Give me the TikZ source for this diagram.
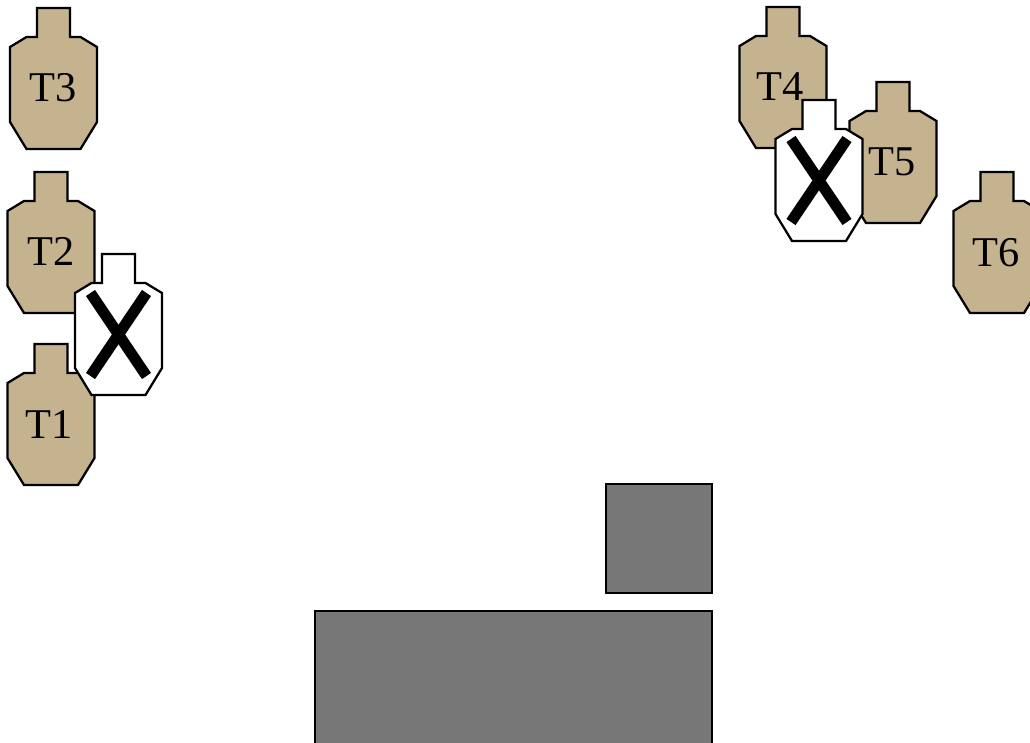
\documentclass[tikz,border=0pt]{standalone}
\usepackage{fontspec}
\setmainfont{Liberation Serif}
\definecolor{targettan}{HTML}{C5B28E}
\definecolor{coverdark}{HTML}{777777}
\tikzset{
  outline/.style={draw=black, line width=1.7pt, line join=miter},
  targetlabel/.style={anchor=base, inner sep=0pt, font=\fontsize{31.8pt}{35pt}\selectfont},
  pics/target/.style={code={
    \draw[outline, fill=#1] (-16.5,0)--(16.5,0)--(16.5,29)--(27,29)--(43.5,39)--(43.5,114)
      --(27,141)--(-27,141)--(-43.5,114)--(-43.5,39)--(-27,29)--(-16.5,29)--cycle;
  }},
  pics/crossed/.style={code={
    \pic {target=white};
    \draw[line width=8.2pt] (-28,39)--(28,122);
    \draw[line width=8.2pt] (28,39)--(-28,122);
  }}
}
\begin{document}
\begin{tikzpicture}[x=0.75pt, y=-0.75pt]
  \useasboundingbox (0,0) rectangle (1030,742);
  \clip (0,0) rectangle (1030,742);

  \coordinate (P1) at (51,344);
  \coordinate (P2) at (51,172);
  \coordinate (P3) at (53.5,8);
  \coordinate (P4) at (783,7);
  \coordinate (P5) at (893,82);
  \coordinate (P6) at (997,172);
  \coordinate (X1) at (118.5,254);
  \coordinate (X2) at (819,100);

  % left group
  \pic at (P3) {target=targettan};
  \pic at (P2) {target=targettan};
  \pic at (P1) {target=targettan};
  \node[targetlabel] (T3) at (53,101) {T3};
  \node[targetlabel] (T2) at (51,265.7) {T2};
  \node[targetlabel] (T1) at (49,438) {T1};
  \pic at (X1) {crossed};

  % right group
  \pic at (P4) {target=targettan};
  \pic at (P5) {target=targettan};
  \pic at (P6) {target=targettan};
  \node[targetlabel] (T4) at (780,100.7) {T4};
  \node[targetlabel] (T5) at (892,175.7) {T5};
  \node[targetlabel] (T6) at (996,266.7) {T6};
  \pic at (X2) {crossed};

  % cover
  \draw[outline, fill=coverdark] (606,484) rectangle (711.7,592.7);
  \draw[outline, fill=coverdark] (315,611) rectangle (711.7,760);
\end{tikzpicture}
\end{document}
